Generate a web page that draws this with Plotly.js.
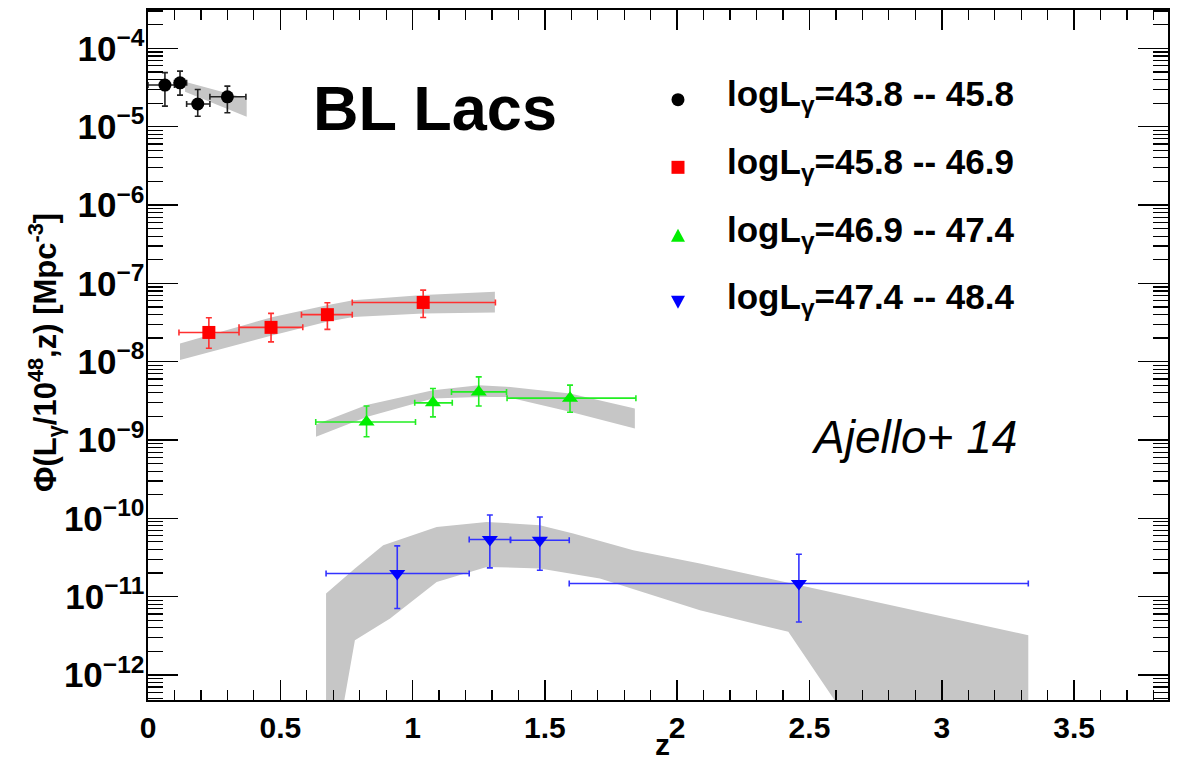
<!DOCTYPE html>
<html>
<head>
<meta charset="utf-8">
<script src="https://cdn.plot.ly/plotly-3.0.1.min.js"></script>
<style>
html,body{margin:0;padding:0;background:#fff;}
#chart{width:1182px;height:766px;}
</style>
</head>
<body>
<div id="chart"></div>
<script>
// ---------- data ----------
const seriesNames = ["logL<sub>γ</sub>=43.8 -- 45.8", "logL<sub>γ</sub>=45.8 -- 46.9", "logL<sub>γ</sub>=46.9 -- 47.4", "logL<sub>γ</sub>=47.4 -- 48.4"];

// black: logL 43.8-45.8
const blackZ     = [0.064, 0.121, 0.188, 0.30];
const blackZlo   = [0.0, 0.10, 0.146, 0.234];
const blackZhi   = [0.10, 0.146, 0.234, 0.37];
const blackPhi   = [3.40e-5, 3.63e-5, 1.95e-5, 2.41e-5];
const blackPhiHi = [4.90e-5, 5.13e-5, 2.99e-5, 3.30e-5];
const blackPhiLo = [1.83e-5, 2.53e-5, 1.36e-5, 1.51e-5];

// red: logL 45.8-46.9
const redZ     = [0.23, 0.465, 0.678, 1.04];
const redZlo   = [0.117, 0.344, 0.58, 0.772];
const redZhi   = [0.344, 0.585, 0.772, 1.313];
const redPhi   = [2.36e-8, 2.74e-8, 3.98e-8, 5.70e-8];
const redPhiHi = [3.63e-8, 4.13e-8, 5.64e-8, 8.18e-8];
const redPhiLo = [1.48e-8, 1.79e-8, 2.58e-8, 3.66e-8];

// green: logL 46.9-47.4
const greenZ     = [0.826, 1.077, 1.25, 1.595];
const greenZlo   = [0.634, 1.008, 1.147, 1.357];
const greenZhi   = [1.011, 1.15, 1.355, 1.844];
const greenPhi   = [1.70e-9, 2.98e-9, 4.11e-9, 3.42e-9];
const greenPhiHi = [2.72e-9, 4.55e-9, 6.40e-9, 5.01e-9];
const greenPhiLo = [1.10e-9, 1.97e-9, 2.72e-9, 2.26e-9];

// blue: logL 47.4-48.4
const blueZ     = [0.942, 1.292, 1.481, 2.46];
const blueZlo   = [0.673, 1.214, 1.37, 1.592];
const blueZhi   = [1.214, 1.37, 1.592, 3.327];
const bluePhi   = [1.97e-11, 5.36e-11, 5.25e-11, 1.47e-11];
const bluePhiHi = [4.45e-11, 1.10e-10, 1.04e-10, 3.48e-11];
const bluePhiLo = [7.05e-12, 2.33e-11, 2.17e-11, 4.75e-12];

// model uncertainty bands (grey)
const blackBandZ  = [0.14, 0.373];
const blackBandHi = [3.74e-5, 2.29e-5];
const blackBandLo = [2.79e-5, 1.34e-5];

const redBandZ  = [0.121, 0.472, 0.676, 0.775, 1.04, 1.311];
const redBandHi = [1.71e-8, 3.73e-8, 5.26e-8, 6.10e-8, 7.08e-8, 7.80e-8];
const redBandLo = [1.05e-8, 2.18e-8, 3.24e-8, 3.72e-8, 4.12e-8, 4.25e-8];

const greenBandZ  = [0.635, 0.826, 1.077, 1.25, 1.355, 1.595, 1.84];
const greenBandHi = [1.58e-9, 2.79e-9, 4.33e-9, 5.01e-9, 4.79e-9, 3.93e-9, 2.52e-9];
const greenBandLo = [1.10e-9, 1.97e-9, 3.39e-9, 3.55e-9, 3.55e-9, 2.29e-9, 1.40e-9];

const blueBandHiZ = [0.673, 0.782, 0.889, 1.091, 1.28, 1.481, 1.607, 1.834, 2.086, 2.464, 3.327];
const blueBandHi  = [1.10e-11, 2.29e-11, 4.53e-11, 7.76e-11, 8.99e-11, 8.17e-11, 6.40e-11, 3.92e-11, 2.65e-11, 1.40e-11, 3.21e-12];
const blueBandLoZ = [0.673, 0.738, 0.782, 0.915, 1.091, 1.28, 1.481, 1.708, 2.086, 2.42, 2.61, 3.327];
const blueBandLo  = [4e-13, 4e-13, 2.77e-12, 5.25e-12, 1.54e-11, 2.39e-11, 2.29e-11, 1.70e-11, 6.70e-12, 3.55e-12, 4e-13, 4e-13];

const xTickVals = [0, 0.5, 1, 1.5, 2, 2.5, 3, 3.5];

// ---------- build ----------
const FONT = "Liberation Sans, Arial, Helvetica, sans-serif";
const BANDCOL = "#c6c6c6";

function band(zLo, lo, zHi, hi) {
  const x = zHi.concat(zLo.slice().reverse());
  const y = hi.concat(lo.slice().reverse());
  return {x: x, y: y, type: "scatter", mode: "lines", fill: "toself",
          fillcolor: BANDCOL, line: {width: 0, color: BANDCOL},
          hoverinfo: "skip", showlegend: false};
}
function sub(a, b) { return a.map((v, i) => v - b[i]); }
function pts(z, zlo, zhi, phi, lo, hi, color, symbol, size, ecol) {
  return {
    x: z, y: phi, type: "scatter", mode: "markers", showlegend: false,
    marker: {color: color, symbol: symbol, size: size, line: {width: 0}},
    error_x: {type: "data", symmetric: false, array: sub(zhi, z), arrayminus: sub(z, zlo),
              color: ecol, thickness: 1.6, width: 3},
    error_y: {type: "data", symmetric: false, array: sub(hi, phi), arrayminus: sub(phi, lo),
              color: ecol, thickness: 1.6, width: 3}
  };
}

const traces = [
  band(blackBandZ, blackBandLo, blackBandZ, blackBandHi),
  band(redBandZ, redBandLo, redBandZ, redBandHi),
  band(greenBandZ, greenBandLo, greenBandZ, greenBandHi),
  band(blueBandLoZ, blueBandLo, blueBandHiZ, blueBandHi),
  pts(blackZ, blackZlo, blackZhi, blackPhi, blackPhiLo, blackPhiHi, "#000000", "circle", 13, "#222222"),
  pts(redZ, redZlo, redZhi, redPhi, redPhiLo, redPhiHi, "#ff0000", "square", 13, "#ff3030"),
  pts(greenZ, greenZlo, greenZhi, greenPhi, greenPhiLo, greenPhiHi, "#00ee00", "triangle-up", 14, "#22ee22"),
  pts(blueZ, blueZlo, blueZhi, bluePhi, bluePhiLo, bluePhiHi, "#0000ff", "triangle-down", 14, "#3333ff")
];

const legX = 0.5196, legTextX = 0.566;
const legRowY = [0.870, 0.772, 0.673, 0.577];
const legTextY = [0.875, 0.777, 0.678, 0.581];
const legColors = ["#000000", "#ff0000", "#00ee00", "#0000ff"];

const annotations = [
  {text: "<b>BL Lacs</b>", xref: "paper", yref: "paper", x: 0.2814, y: 0.858,
   xanchor: "center", yanchor: "middle", showarrow: false,
   font: {family: FONT, size: 63, color: "#000"}},
  {text: "<i>Ajello+ 14</i>", xref: "paper", yref: "paper", x: 0.751, y: 0.381,
   xanchor: "center", yanchor: "middle", showarrow: false,
   font: {family: FONT, size: 46, color: "#000"}},
  // y-axis title
  {text: "<b>Φ(L<sub>γ</sub>/10<sup>48</sup>,z) [Mpc<sup>-3</sup>]</b>", xref: "paper", yref: "paper",
   x: -0.1, y: 0.503, xanchor: "center", yanchor: "middle", textangle: -90, showarrow: false,
   font: {family: FONT, size: 31, color: "#000"}},
  // x-axis title
  {text: "<b>z</b>", xref: "paper", yref: "paper", x: 0.504, y: -0.0645,
   xanchor: "center", yanchor: "middle", showarrow: false,
   font: {family: FONT, size: 30, color: "#000"}}
];
seriesNames.forEach((n, i) => {
  annotations.push({text: "<b>" + n + "</b>", xref: "paper", yref: "paper",
    x: legTextX, y: legTextY[i], xanchor: "left", yanchor: "middle", showarrow: false,
    font: {family: FONT, size: 35, color: "#000"}});
});

const shapes = [];
function shp(type, i, extra) {
  return Object.assign({type: type, xref: "paper", yref: "paper",
    xsizemode: "pixel", ysizemode: "pixel", xanchor: legX, yanchor: legRowY[i],
    fillcolor: legColors[i], line: {width: 0}}, extra);
}
shapes.push(shp("circle", 0, {x0: -6.5, x1: 6.5, y0: -6.5, y1: 6.5}));
shapes.push(shp("rect", 1, {x0: -6.5, x1: 6.5, y0: -6.5, y1: 6.5}));
shapes.push(shp("path", 2, {path: "M -7,-6 L 7,-6 L 0,7 Z"}));
shapes.push(shp("path", 3, {path: "M -7,6 L 7,6 L 0,-7 Z"}));

const layout = {
  width: 1182, height: 766,
  margin: {l: 148, r: 14, t: 10, b: 66, pad: 0},
  paper_bgcolor: "#ffffff", plot_bgcolor: "#ffffff",
  showlegend: false,
  font: {family: FONT, color: "#000"},
  xaxis: {
    range: [0, 3.855], tickvals: xTickVals, ticks: "inside", ticklen: 20, tickwidth: 1.5,
    tickcolor: "#000", mirror: "ticks", showline: true, linecolor: "#000", linewidth: 2,
    showgrid: false, zeroline: false,
    minor: {dtick: 0.1, ticks: "inside", ticklen: 10, tickwidth: 1.2, tickcolor: "#000", showgrid: false},
    tickfont: {family: FONT, size: 30, weight: "bold", color: "#000"}
  },
  yaxis: {
    type: "log", range: [-12.32, -3.51], dtick: 1, exponentformat: "power", showexponent: "all",
    ticks: "inside", ticklen: 30, tickwidth: 1.5, tickcolor: "#000",
    mirror: "ticks", showline: true, linecolor: "#000", linewidth: 2,
    showgrid: false, zeroline: false, ticklabelstandoff: -4,
    minor: {dtick: "D1", ticks: "inside", ticklen: 15, tickwidth: 1.2, tickcolor: "#000", showgrid: false},
    tickfont: {family: FONT, size: 28, weight: "bold", color: "#000"}
  },
  annotations: annotations,
  shapes: shapes
};

Plotly.newPlot("chart", traces, layout, {staticPlot: true, displayModeBar: false});
</script>
</body>
</html>
